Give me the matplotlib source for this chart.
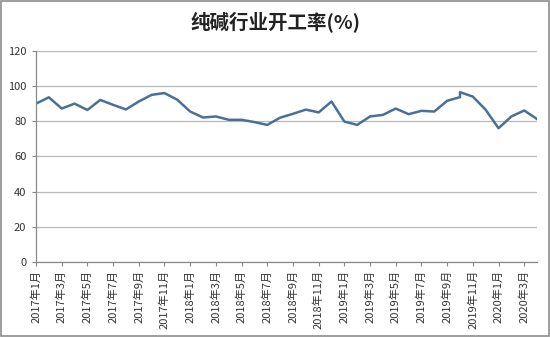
import matplotlib.pyplot as plt
from matplotlib.patches import Rectangle

plt.rcParams['font.family'] = ['Noto Sans CJK SC', 'DejaVu Sans']

# 月度数据（2019年10月有两个数据点）
months = ['2017-01', '2017-02', '2017-03', '2017-04', '2017-05', '2017-06',
          '2017-07', '2017-08', '2017-09', '2017-10', '2017-11', '2017-12',
          '2018-01', '2018-02', '2018-03', '2018-04', '2018-05', '2018-06',
          '2018-07', '2018-08', '2018-09', '2018-10', '2018-11', '2018-12',
          '2019-01', '2019-02', '2019-03', '2019-04', '2019-05', '2019-06',
          '2019-07', '2019-08', '2019-09', '2019-10', '2019-10', '2019-11',
          '2019-12', '2020-01', '2020-02', '2020-03', '2020-04']
rate = [90.0, 93.6, 87.2, 90.0, 86.4, 92.1, 89.3, 86.7, 91.2, 95.0, 96.0, 92.2,
        85.5, 82.1, 82.7, 80.8, 80.8, 79.5, 77.9, 82.0, 84.2, 86.6, 85.0, 91.2,
        79.8, 77.9, 82.7, 83.6, 87.2, 84.0, 85.9, 85.5, 91.6, 93.7, 96.5, 94.0,
        86.5, 76.0, 82.7, 86.1, 81.2]
tick_labels = ['2017年1月', '2017年3月', '2017年5月', '2017年7月', '2017年9月',
               '2017年11月', '2018年1月', '2018年3月', '2018年5月', '2018年7月',
               '2018年9月', '2018年11月', '2019年1月', '2019年3月', '2019年5月',
               '2019年7月', '2019年9月', '2019年11月', '2020年1月', '2020年3月']


def month_index(s):
    y, m = s.replace('年', '-').replace('月', '').split('-')
    return (int(y) - 2017) * 12 + int(m) - 1


x = [month_index(m) for m in months]
ticks = [month_index(t) for t in tick_labels]

fig = plt.figure(figsize=(5.5, 3.37), dpi=100)
ax = fig.add_axes([0.0655, 0.223, 0.911, 0.626])

ax.plot(x, rate, color='#4A7098', linewidth=1.8, solid_joinstyle='round')

ax.set_xlim(0, 39)
ax.set_ylim(0, 120)
ax.set_yticks(range(0, 121, 20))
ax.set_xticks(ticks)
ax.set_xticklabels(tick_labels, rotation=90, fontsize=8, color='#333333')
ax.tick_params(axis='y', labelsize=8, length=3, color='#888888', labelcolor='#333333', pad=4)
ax.tick_params(axis='x', length=3, color='#888888', pad=3)
ax.grid(axis='y', color='#B8B8B8', linewidth=0.9)
ax.set_axisbelow(True)
for side in ['top', 'right']:
    ax.spines[side].set_visible(False)
for side in ['left', 'bottom']:
    ax.spines[side].set_color('#888888')
    ax.spines[side].set_linewidth(0.9)

fig.text(0.5, 0.932, '纯碱行业开工率(%)', ha='center', va='center',
         fontsize=14, fontweight='bold', color='#222222')

# 图表外框
fig.patches.append(Rectangle((0.002, 0.003), 0.996, 0.994, transform=fig.transFigure,
                             fill=False, edgecolor='#8C8C8C', linewidth=1.2))

plt.savefig('out.png', dpi=100)
